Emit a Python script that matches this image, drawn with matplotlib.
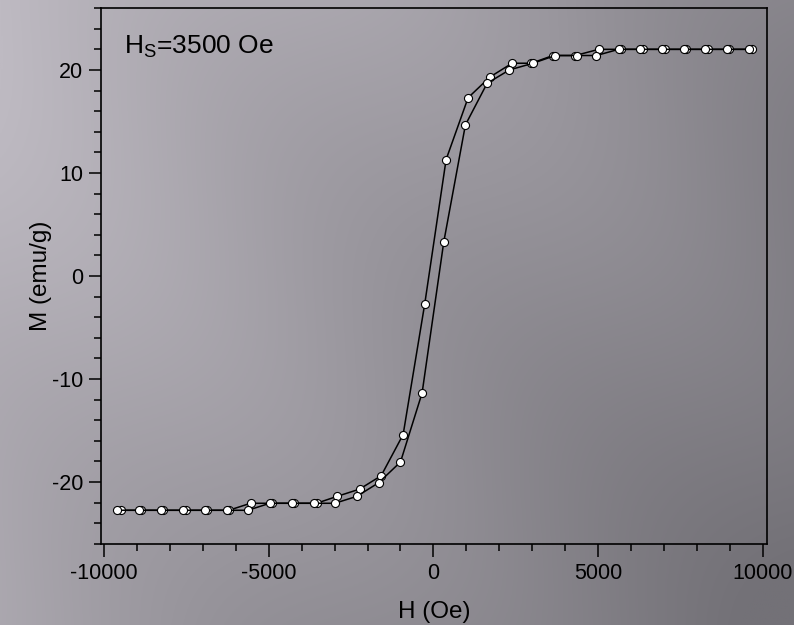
import numpy as np
import matplotlib.pyplot as plt
from matplotlib.ticker import MultipleLocator

plt.rcParams['font.family'] = ['Liberation Sans', 'DejaVu Sans']
plt.rcParams['axes.unicode_minus'] = False

# rama descendente (desde +H hasta -H)
H_down = [9670, 8990, 8335, 7680, 7020, 6360, 5705, 5020, 4310, 3630, 2975, 2388,
          1710, 1053, 385, -263, -920, -1588, -2245, -2925, -3550, -4240, -4896,
          -5554, -6212, -6868, -7527, -8204, -8872, -9500]
M_down = [22.0, 22.0, 22.0, 22.0, 22.0, 22.0, 22.0, 22.0, 21.4, 21.4, 20.65, 20.65,
          19.3, 17.3, 11.3, -2.7, -15.4, -19.4, -20.7, -21.4, -22.07, -22.07, -22.07,
          -22.07, -22.75, -22.75, -22.75, -22.75, -22.75, -22.75]

# rama ascendente (desde -H hasta +H)
H_up = [-9600, -8944, -8285, -7597, -6940, -6282, -5635, -4967, -4310, -3632, -2995,
        -2327, -1660, -1000, -344, 314, 971, 1630, 2307, 3025, 3700, 4360, 4950,
        5625, 6280, 6940, 7600, 8255, 8910, 9570]
M_up = [-22.75, -22.75, -22.75, -22.75, -22.75, -22.75, -22.75, -22.07, -22.07, -22.07,
        -22.07, -21.4, -20.07, -18.06, -11.36, 3.3, 14.66, 18.7, 20.0, 20.65, 21.4,
        21.4, 21.4, 22.0, 22.0, 22.0, 22.0, 22.0, 22.0, 22.0]

fig = plt.figure(figsize=(7.94, 6.25), dpi=100)

##### fondo degradado
bg = fig.add_axes([0, 0, 1, 1], zorder=-10)
gx, gy = np.meshgrid(np.linspace(0, 1, 400), np.linspace(0, 1, 320))
t = 0.7 * gx + 0.3 * gy
t = (t - t.min()) / (t.max() - t.min())
t = t + 0.05 * np.sin(9 * (gx - 0.8 * gy))
t = np.clip(t, 0, 1)
light = np.array([190, 186, 194]) / 255
dark = np.array([115, 113, 119]) / 255
img = light[None, None, :] * (1 - t[..., None]) + dark[None, None, :] * t[..., None]
bg.imshow(img, aspect='auto', extent=[0, 1, 0, 1], origin='upper')
bg.axis('off')

##### gráfica
ax = fig.add_axes([0.127, 0.130, 0.839, 0.857])
ax.patch.set_alpha(0)
ax.plot(H_down, M_down, 'k-', lw=1.1, marker='o', ms=5.8, mfc='white', mec='black', mew=0.8)
ax.plot(H_up, M_up, 'k-', lw=1.1, marker='o', ms=5.8, mfc='white', mec='black', mew=0.8)

ax.set_xlim(-10100, 10130)
ax.set_ylim(-26, 26)
ax.xaxis.set_major_locator(MultipleLocator(5000))
ax.xaxis.set_minor_locator(MultipleLocator(1000))
ax.yaxis.set_major_locator(MultipleLocator(10))
ax.yaxis.set_minor_locator(MultipleLocator(2))
ax.tick_params(which='both', direction='out', top=False, right=False, labelsize=15.5, width=1.1)
ax.tick_params(which='major', length=9)
ax.tick_params(which='minor', length=5)
ax.tick_params(axis='x', pad=5)
for s in ax.spines.values():
    s.set_linewidth(1.2)

ax.set_xlabel('H (Oe)', fontsize=17.5, labelpad=12)
ax.set_ylabel('M (emu/g)', fontsize=17.5, labelpad=0)
ax.text(0.035, 0.915, r'H$_\mathregular{S}$=3500 Oe', transform=ax.transAxes, fontsize=19)

fig.savefig('out.png', dpi=100)
